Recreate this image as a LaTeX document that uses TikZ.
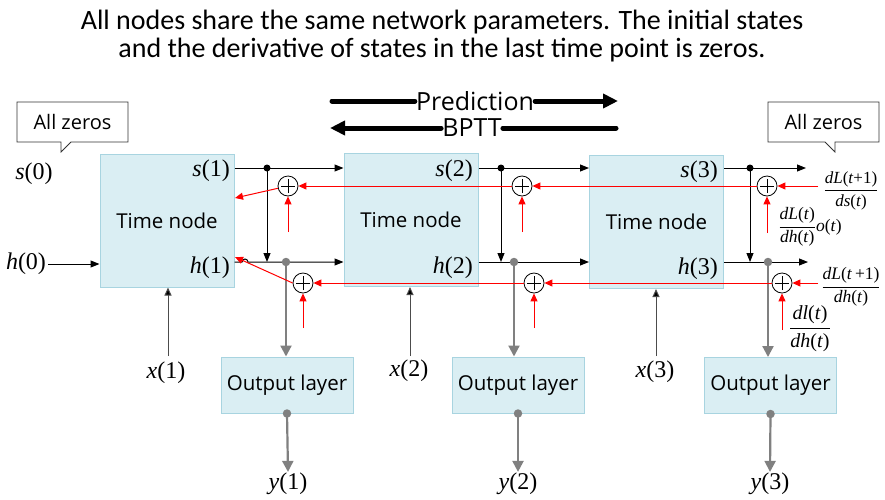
\documentclass[tikz,border=0pt]{standalone}
\usepackage{fontspec}
\setmainfont{Open Sans}
\newfontfamily\tnr{Liberation Serif}
\newfontfamily\titlefont{Carlito}
\usetikzlibrary{arrows.meta}
\definecolor{boxfill}{HTML}{DAEEF3}
\definecolor{boxline}{HTML}{A8D4E0}
\definecolor{grayline}{HTML}{808080}
\definecolor{redline}{HTML}{FF0000}
\newcommand\mv[2]{{\tnr\textit{#1}(#2)}}
\newcommand\myfr[2]{$\displaystyle\frac{\hbox{\tnr #1}}{\hbox{\tnr #2}}$}
\begin{document}
\begin{tikzpicture}[x=1pt,y=-1pt,
  timebox/.style={draw=boxline, fill=boxfill, line width=1pt, minimum width=134pt, minimum height=133pt, inner sep=0pt, font=\fontsize{20.5}{23}\selectfont},
  outbox/.style={draw=boxline, fill=boxfill, line width=1pt, minimum width=132pt, minimum height=56pt, inner sep=0pt, font=\fontsize{20.5}{23}\selectfont},
  lab/.style={inner sep=1pt, font=\fontsize{24}{26}\selectfont},
  blk/.style={draw=black, line width=1pt, -{Triangle[length=9pt,width=7pt]}},
  gry/.style={draw=grayline, line width=2.2pt, -{Triangle[length=11pt,width=11pt]}},
  xarr/.style={draw=black!70, line width=1pt, -{Triangle[length=8pt,width=7pt,fill=black]}},
  redarr/.style={draw=redline, line width=1pt, -{Triangle[length=8pt,width=7pt]}},
  bigarr/.style={draw=black, line width=5pt, line cap=round, -{Triangle[length=15pt,width=14pt]}},
  bigline/.style={draw=black, line width=5pt, line cap=round},
  oplus/.style={circle, draw=black, line width=0.8pt, fill=white, minimum size=20pt, inner sep=0pt,
    path picture={\draw[line width=0.8pt] ([xshift=-7pt]path picture bounding box.center) -- ([xshift=7pt]path picture bounding box.center);
                  \draw[line width=0.8pt] ([yshift=-7pt]path picture bounding box.center) -- ([yshift=7pt]path picture bounding box.center);}},
  bdot/.style={circle, fill=black, inner sep=0pt, minimum size=7pt},
  gdot/.style={circle, fill=grayline, inner sep=0pt, minimum size=8.5pt},
  callout/.style={draw=black!80, line width=0.8pt, fill=white},
  fraclab/.style={inner sep=0pt}
]
\useasboundingbox (0,0) rectangle (885,499);

% title
\node[font=\titlefont\fontsize{28}{30}\selectfont] (t1) at (442,22) {All nodes share the same network parameters. The initial states};
\node[font=\titlefont\fontsize{28}{30}\selectfont] (t2) at (442,50) {and the derivative of states in the last time point is zeros.};

% prediction / BPTT
\node[font=\fontsize{25}{28}\selectfont, inner sep=1pt] (pred) at (475,101) {Prediction};
\coordinate (pl) at (332,101); \coordinate (pr) at (618,101);
\draw[bigline] (pl) -- (pred.west);
\draw[bigarr] (pred.east) -- (pr);
\node[font=\fontsize{25}{28}\selectfont, inner sep=1pt] (bptt) at (472,128) {BPTT};
\coordinate (bl) at (330,128); \coordinate (br) at (616,128);
\draw[bigline] (br) -- (bptt.east);
\draw[bigarr] (bptt.west) -- (bl);

% callouts
\draw[callout] (17,102) -- (128,102) -- (128,142) -- (71,142) -- (61,152) -- (61,142) -- (17,142) -- cycle;
\node[font=\fontsize{20}{22}\selectfont] (z1) at (72.5,122) {All zeros};
\draw[callout] (768,102) -- (879,102) -- (879,142) -- (835,142) -- (835,152) -- (825,142) -- (768,142) -- cycle;
\node[font=\fontsize{20}{22}\selectfont] (z2) at (823.5,122) {All zeros};

% time boxes
\node[timebox] (b1) at (167,220.5) {Time node};
\node[timebox] (b2) at (411,220) {Time node};
\node[timebox] (b3) at (656.5,222) {Time node};
\node[lab, anchor=east] (ls1) at (231,171) {\mv{s}{1}};
\node[lab, anchor=east] (lh1) at (231,267.5) {\mv{h}{1}};
\node[lab, anchor=east] (ls2) at (474,171) {\mv{s}{2}};
\node[lab, anchor=east] (lh2) at (474,267.5) {\mv{h}{2}};
\node[lab, anchor=east] (ls3) at (719,172) {\mv{s}{3}};
\node[lab, anchor=east] (lh3) at (719,269) {\mv{h}{3}};

% output boxes
\node[outbox] (o1) at (287,385) {Output layer};
\node[outbox] (o2) at (518,385) {Output layer};
\node[outbox] (o3) at (770.5,385.5) {Output layer};

% left labels
\node[lab] (s0) at (34,174) {\mv{s}{0}};
\node[lab, inner sep=2pt] (h0) at (26,264) {\mv{h}{0}};
\draw[blk] (h0.east) -- (b1.west |- h0.east);

% x inputs
\node[lab] (x1) at (166,373) {\mv{x}{1}};
\node[lab] (x2) at (409,371) {\mv{x}{2}};
\node[lab] (x3) at (655,372) {\mv{x}{3}};
\coordinate (xa1) at (168,356); \coordinate (xa2) at (410,356); \coordinate (xa3) at (656,356);
\draw[xarr] (xa1) -- (b1.south -| xa1);
\draw[xarr] (xa2) -- (b2.south -| xa2);
\draw[xarr] (xa3) -- (b3.south -| xa3);

% junctions
\coordinate (js1) at (267,168); \coordinate (jh1) at (286,262);
\coordinate (js2) at (501,168); \coordinate (jh2) at (514,262);
\coordinate (js3) at (750,168); \coordinate (jh3) at (768,262);
\coordinate (se) at (806,168); \coordinate (he) at (808,262);

% s lines
\draw[blk] (b1.east |- js1) -- (b2.west |- js1);
\draw[blk] (b2.east |- js2) -- (b3.west |- js2);
\draw[blk] (b3.east |- js3) -- (se);
% h lines
\coordinate (hop) at (242,262);
\draw[blk] (b1.east |- jh1) -- (hop) arc (180:360:3) -- (b2.west |- jh1);
\draw[blk] (b2.east |- jh2) -- (b3.west |- jh2);
\draw[blk] (b3.east |- jh3) -- (he);
% s to h
\draw[blk] (js1) -- (js1 |- jh1);
\draw[blk] (js2) -- (js2 |- jh2);
\draw[blk] (js3) -- (js3 |- jh3);
\node[bdot] (d1) at (js1) {};
\node[bdot] (d2) at (js2) {};
\node[bdot] (d3) at (js3) {};

% gray to outputs
\draw[gry] (jh1) -- (o1.north -| jh1);
\draw[gry] (jh2) -- (o2.north -| jh2);
\draw[gry] (jh3) -- (o3.north -| jh3);
\node[gdot] (g1) at (jh1) {};
\node[gdot] (g2) at (jh2) {};
\node[gdot] (g3) at (jh3) {};

% outputs
\node[lab] (y1) at (288,484) {\mv{y}{1}};
\node[lab] (y2) at (518,484) {\mv{y}{2}};
\node[lab] (y3) at (770,484) {\mv{y}{3}};
\node[gdot] (ob1) at (o1.south) {};
\node[gdot] (ob2) at (o2.south) {};
\node[gdot] (ob3) at (o3.south) {};
\draw[gry] (ob1.center) -- (y1.north);
\draw[gry] (ob2.center) -- (y2.north);
\draw[gry] (ob3.center) -- (y3.north);

% oplus nodes
\node[oplus] (op1s) at (288,186) {};
\node[oplus] (op1h) at (303,283) {};
\node[oplus] (op2s) at (522,186) {};
\node[oplus] (op2h) at (534,283) {};
\node[oplus] (op3s) at (767,186) {};
\node[oplus] (op3h) at (782,283) {};

% red connectors
\coordinate (rs) at (818,186); \coordinate (rh) at (818,283);
\coordinate (in1s) at (235,198); \coordinate (in1h) at (235,257);
\draw[redarr] (rs) -- (op3s);
\draw[redarr] (op3s) -- (op2s);
\draw[redarr] (op2s) -- (op1s);
\draw[redarr] (op1s) -- (in1s);
\draw[redarr] (rh) -- (op3h);
\draw[redarr] (op3h) -- (op2h);
\draw[redarr] (op2h) -- (op1h);
\draw[redarr] (op1h.west) -- (in1h);
\coordinate (u1s) at (288,232); \coordinate (u1h) at (303,328);
\coordinate (u2s) at (522,232); \coordinate (u2h) at (534,328);
\coordinate (u3s) at (767,233); \coordinate (u3h) at (782,330);
\draw[redarr] (u1s) -- (op1s);
\draw[redarr] (u1h) -- (op1h);
\draw[redarr] (u2s) -- (op2s);
\draw[redarr] (u2h) -- (op2h);
\draw[redarr] (u3s) -- (op3s);
\draw[redarr] (u3h) -- (op3h);

% fraction labels
\node[fraclab] (f1) at (851,191) {\fontsize{17}{19}\selectfont\myfr{\textit{dL}(\textit{t}+1)}{\textit{ds}(\textit{t})}};
\node[fraclab] (f2) at (810,227) {\fontsize{17.5}{19}\selectfont\myfr{\textit{dL}(\textit{t})}{\textit{dh}(\textit{t})}{\tnr\textit{o}(\textit{t})}};
\node[fraclab] (f3) at (851,287) {\fontsize{17.5}{19}\selectfont\myfr{\textit{dL}(\textit{t}\,+1)}{\textit{dh}(\textit{t})}};
\node[fraclab] (f4) at (810,329) {\fontsize{20}{22}\selectfont\myfr{\textit{dl}(\textit{t})}{\textit{dh}(\textit{t})}};
\end{tikzpicture}
\end{document}
